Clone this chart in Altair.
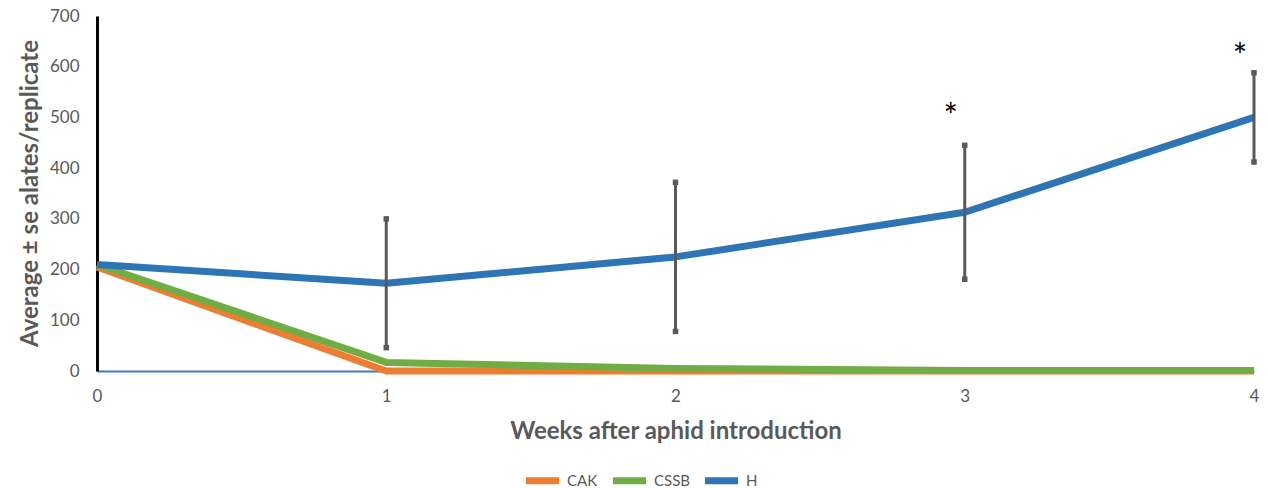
import altair as alt
import pandas as pd

# Weekly alate counts per replicate for the three treatments
weeks = [0, 1, 2, 3, 4]
cak = [205, 0, 0, 0, 0]
cssb = [210, 17, 5, 1, 1]
h = [210, 173, 225, 313, 500]
h_se = [0, 127, 147, 132, 88]

# Weeks with a significant difference and the level of their asterisk
sig_weeks = [3, 4]
sig_level = [499, 617]

treatments = ["CAK", "CSSB", "H"]
palette = ["#ED7D31", "#70AD47", "#2E75B6"]

rows = []
for name, vals in zip(treatments, [cak, cssb, h]):
    for w, v in zip(weeks, vals):
        rows.append({"week": w, "value": v, "treatment": name})
lines_df = pd.DataFrame(rows)

err_df = pd.DataFrame({
    "week": weeks,
    "low": [m - s for m, s in zip(h, h_se)],
    "high": [m + s for m, s in zip(h, h_se)],
    "se": h_se,
})
err_df = err_df[err_df["se"] > 0]
caps_df = pd.concat([
    err_df[["week", "low"]].rename(columns={"low": "v"}),
    err_df[["week", "high"]].rename(columns={"high": "v"}),
])

sig_df = pd.DataFrame({"week": sig_weeks, "level": sig_level, "mark": ["*"] * len(sig_weeks)})

FONT = "Lato"
GREY = "#595959"

x_enc = alt.X(
    "week:Q",
    scale=alt.Scale(domain=[0, 4], nice=False, zero=False),
    axis=alt.Axis(
        values=weeks, format="d", title="Weeks after aphid introduction",
        domainColor="#4472C4", domainWidth=2, ticks=False, grid=False,
        labelPadding=17, labelFontSize=17, labelColor=GREY, labelFont=FONT,
        labelFlush=False,
        titleFontSize=24, titleFont=FONT, titleFontWeight="bold", titleColor=GREY,
        titleY=60, titleBaseline="middle",
    ),
)
y_scale = alt.Scale(domain=[0, 700], nice=False)
y_axis = alt.Axis(
    values=[0, 100, 200, 300, 400, 500, 600, 700], title="Average ± se alates/replicate",
    domainColor="#000000", domainWidth=3, ticks=False, grid=False,
    labelPadding=18, labelFontSize=17, labelColor=GREY, labelFont=FONT,
    labelFlush=False,
    titleFontSize=24, titleFont=FONT, titleFontWeight="bold", titleColor=GREY,
    titleX=-67, titleY=177, titleBaseline="middle", titleAngle=270,
)

lines = alt.Chart(lines_df).mark_line(strokeWidth=7, strokeCap="butt", strokeJoin="round").encode(
    x=x_enc,
    y=alt.Y("value:Q", scale=y_scale, axis=y_axis),
    color=alt.Color(
        "treatment:N",
        scale=alt.Scale(domain=treatments, range=palette),
        legend=alt.Legend(
            title=None, orient="none", direction="horizontal",
            legendX=425, legendY=444,
            symbolType="stroke", symbolStrokeWidth=7, symbolSize=1100,
            labelFont=FONT, labelFontSize=15, labelColor=GREY,
            labelOffset=4, columnPadding=0, padding=0,
        ),
    ),
)

bars = alt.Chart(err_df).mark_rule(color=GREY, strokeWidth=3).encode(
    x="week:Q", y=alt.Y("low:Q", scale=y_scale), y2="high:Q"
)

caps = alt.Chart(caps_df).mark_square(color=GREY, size=30, opacity=1).encode(
    x="week:Q", y=alt.Y("v:Q", scale=y_scale)
)

stars = alt.Chart(sig_df).mark_text(
    fontSize=34, font=FONT, color="#000000", dx=-14, baseline="middle"
).encode(
    x="week:Q", y=alt.Y("level:Q", scale=y_scale), text="mark:N"
)

chart = alt.layer(lines, bars, caps, stars).properties(
    width=1157, height=355,
    autosize=alt.AutoSizeParams(type="none"),
    padding={"left": 97, "top": 16, "right": 14, "bottom": 117},
).configure_view(stroke=None)

chart.save("out.html", embed_options={"renderer": "svg", "actions": False})
